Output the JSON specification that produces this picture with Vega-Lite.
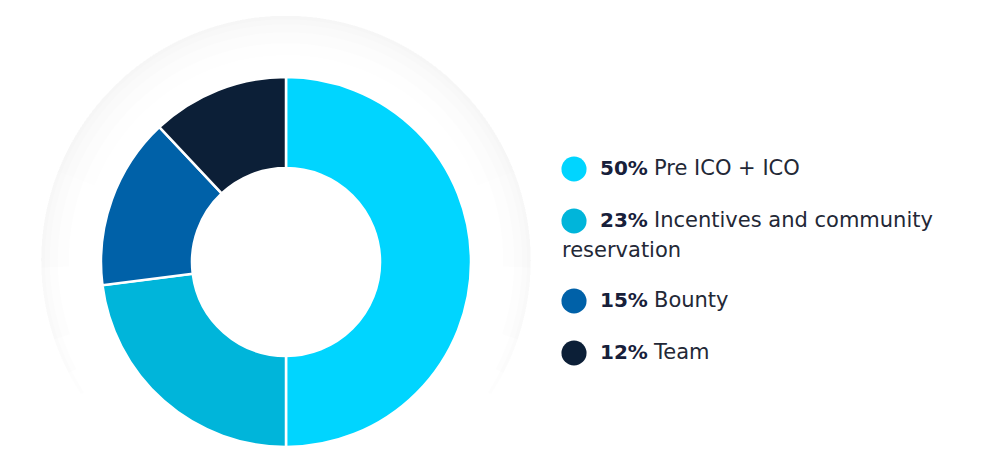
{
  "$schema": "https://vega.github.io/schema/vega-lite/v6.json",
  "padding": 0,
  "spacing": 0,
  "bounds": "flush",
  "background": "#ffffff",
  "config": {"view": {"stroke": null}, "concat": {"spacing": 0}},
  "datasets": {
    "alloc": [
      {"name": "Pre ICO + ICO", "pct": 50, "order": 0, "line1": "Pre ICO + ICO", "line2": ""},
      {"name": "Incentives and community reservation", "pct": 23, "order": 1, "line1": "Incentives and community", "line2": "reservation"},
      {"name": "Bounty", "pct": 15, "order": 2, "line1": "Bounty", "line2": ""},
      {"name": "Team", "pct": 12, "order": 3, "line1": "Team", "line2": ""}
    ]
  },
  "hconcat": [
    {
      "width": 572,
      "height": 475,
      "data": {"name": "alloc"},
      "layer": [
        {"transform": [{"aggregate": [{"op": "count", "as": "n"}]}], "mark": {"type": "arc", "theta": -1.2, "theta2": 1.2, "innerRadius": 205, "outerRadius": 245, "fill": "#000000", "opacity": 0.005, "yOffset": 23}, "encoding": {}},
        {"transform": [{"aggregate": [{"op": "count", "as": "n"}]}], "mark": {"type": "arc", "theta": -1.6, "theta2": 1.6, "innerRadius": 217, "outerRadius": 245, "fill": "#000000", "opacity": 0.006, "yOffset": 23}, "encoding": {}},
        {"transform": [{"aggregate": [{"op": "count", "as": "n"}]}], "mark": {"type": "arc", "theta": -1.9, "theta2": 1.9, "innerRadius": 228, "outerRadius": 245, "fill": "#000000", "opacity": 0.007, "yOffset": 23}, "encoding": {}},
        {"transform": [{"aggregate": [{"op": "count", "as": "n"}]}], "mark": {"type": "arc", "theta": -2.05, "theta2": 2.05, "innerRadius": 236, "outerRadius": 245, "fill": "#000000", "opacity": 0.008, "yOffset": 23}, "encoding": {}},
        {"transform": [{"aggregate": [{"op": "count", "as": "n"}]}], "mark": {"type": "arc", "theta": -2.15, "theta2": 2.15, "innerRadius": 241, "outerRadius": 245, "fill": "#000000", "opacity": 0.008, "yOffset": 23}, "encoding": {}},
        {
          "mark": {"type": "arc", "innerRadius": 94, "outerRadius": 185, "stroke": "#ffffff", "strokeWidth": 2.5, "yOffset": 24.5},
          "encoding": {
            "theta": {"field": "pct", "type": "quantitative", "stack": true},
            "order": {"field": "order", "type": "quantitative"},
            "color": {"field": "name", "type": "nominal", "legend": null, "scale": {"domain": ["Pre ICO + ICO", "Incentives and community reservation", "Bounty", "Team"], "range": ["#00d5ff", "#00b5da", "#0061a8", "#0c1f37"]}}
          }
        }
      ]
    },
    {
      "width": 4,
      "height": 475,
      "data": {"name": "alloc"},
      "encoding": {
        "y": {"field": "order", "type": "quantitative", "axis": null, "scale": {"domain": [0, 1, 2, 3], "range": [169, 221, 301, 353], "nice": false, "zero": false}}
      },
      "layer": [
        {
          "mark": {"type": "point", "shape": "circle", "filled": true, "opacity": 1, "size": 630},
          "encoding": {
            "color": {"field": "name", "type": "nominal", "legend": null, "scale": {"domain": ["Pre ICO + ICO", "Incentives and community reservation", "Bounty", "Team"], "range": ["#00d5ff", "#00b5da", "#0061a8", "#0c1f37"]}}
          }
        },
        {
          "mark": {"type": "text", "align": "left", "baseline": "alphabetic", "dx": 26, "dy": 6, "font": "DejaVu Sans", "fontSize": 20, "fontWeight": 700, "color": "#17203a", "text": {"expr": "datum.pct + '%'"}},
          "encoding": {}
        },
        {
          "mark": {"type": "text", "align": "left", "baseline": "alphabetic", "dx": 80, "dy": 6, "font": "DejaVu Sans", "fontSize": 21, "fontWeight": 400, "color": "#232836"},
          "encoding": {"text": {"field": "line1", "type": "nominal"}}
        },
        {
          "transform": [{"filter": "datum.line2 != ''"}],
          "mark": {"type": "text", "align": "left", "baseline": "alphabetic", "dx": -12, "dy": 36, "font": "DejaVu Sans", "fontSize": 21, "fontWeight": 400, "color": "#232836"},
          "encoding": {"text": {"field": "line2", "type": "nominal"}}
        }
      ]
    }
  ]
}
